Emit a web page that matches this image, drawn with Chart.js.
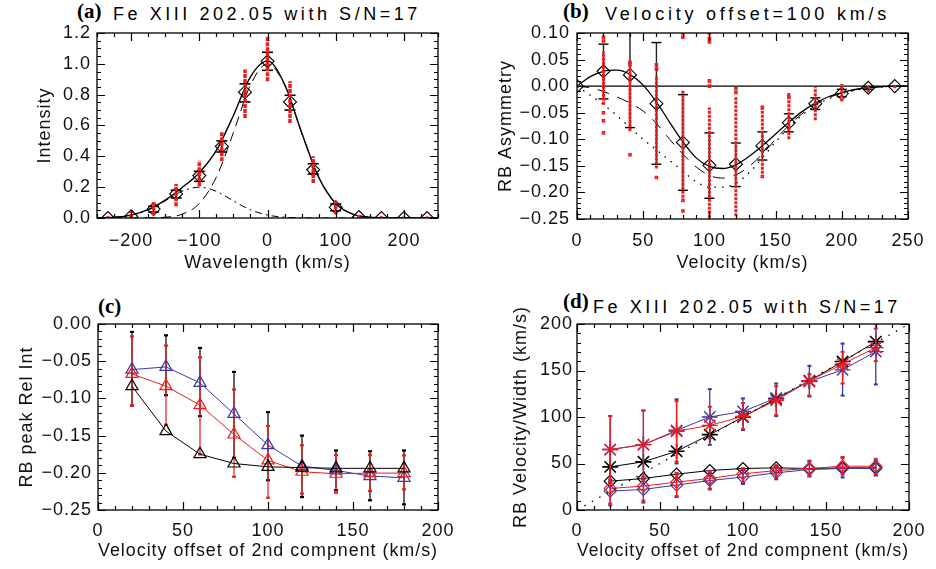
<!DOCTYPE html>
<html><head><meta charset="utf-8">
<script src="https://cdn.jsdelivr.net/npm/chart.js@4.4.1/dist/chart.umd.min.js"></script>
<style>
html,body{margin:0;padding:0;background:#fff;width:936px;height:569px;overflow:hidden;}
body{position:relative;}
.cv{position:absolute;}
.t{position:absolute;font-family:'Liberation Sans',Arial,sans-serif;font-size:18px;line-height:18px;color:#000;white-space:nowrap;}
.p{position:absolute;font-family:'Liberation Serif','Times New Roman',serif;font-weight:bold;font-size:21px;line-height:21px;color:#000;white-space:nowrap;}
</style></head><body>
<div class="p" style="left:77px;top:1px">(a)</div>
<div class="t fit" data-w="308" style="left:113px;top:5px">Fe XIII 202.05 with S/N=17</div>
<div class="p" style="left:563px;top:1px">(b)</div>
<div class="t fit" data-w="285" style="left:605px;top:5px">Velocity offset=100 km/s</div>
<div class="p" style="left:98px;top:296px">(c)</div>
<div class="p" style="left:563px;top:291px">(d)</div>
<div class="t fit" data-w="308" style="left:593px;top:298px">Fe XIII 202.05 with S/N=17</div>

<canvas id="ca" class="cv" width="468" height="284" style="left:0;top:0"></canvas>
<canvas id="cb" class="cv" width="468" height="284" style="left:468px;top:0"></canvas>
<canvas id="cc" class="cv" width="468" height="285" style="left:0;top:284px"></canvas>
<canvas id="cd" class="cv" width="468" height="285" style="left:468px;top:284px"></canvas>
<script>
// ---------------- Panel (a) data ----------------
const aTickX = [-200, -100, 0, 100, 200];
const aTickY = [0, 0.2, 0.4, 0.6, 0.8, 1.0, 1.2];
const aBinX  = [-234, -200, -167, -134, -100, -67, -33, 0, 33, 67, 100, 134, 167, 200, 234];
const aObs   = [0, 0.011, 0.058, 0.156, 0.275, 0.465, 0.816, 1.016, 0.753, 0.313, 0.069, 0.006, 0, 0, 0];
const aRedLo = [0, 0, 0.018, 0.076, 0.206, 0.368, 0.649, 0.887, 0.617, 0.227, 0.026, 0, 0, 0, 0];
const aRedHi = [0.012, 0.04, 0.104, 0.22, 0.372, 0.558, 0.963, 1.18, 0.887, 0.40, 0.112, 0.02, 0.012, 0.01, 0.01];
const aErrX  = [-167, -134, -100, -67, -33, 0, 33, 67, 100];
const aErrLo = [0.039, 0.13, 0.238, 0.428, 0.753, 0.958, 0.70, 0.285, 0.047];
const aErrHi = [0.076, 0.18, 0.303, 0.50, 0.87, 1.075, 0.796, 0.352, 0.091];
const aCurveX = [-250, -225, -200, -175, -150, -125, -100, -75, -50, -25, 0, 25, 50, 75, 100, 125, 150, 175, 200, 225, 250];
const aTotal  = [0.001, 0.005, 0.019, 0.054, 0.116, 0.198, 0.294, 0.438, 0.665, 0.916, 1.019, 0.868, 0.555, 0.265, 0.094, 0.025, 0.005, 0.001, 0, 0, 0];
const aMain   = [0, 0, 0, 0.001, 0.005, 0.025, 0.094, 0.265, 0.554, 0.863, 1.0, 0.863, 0.554, 0.265, 0.094, 0.025, 0.005, 0.001, 0, 0, 0];
const aSecond = [0.001, 0.005, 0.019, 0.053, 0.111, 0.173, 0.2, 0.173, 0.111, 0.053, 0.019, 0.005, 0.001, 0, 0, 0, 0, 0, 0, 0, 0];

// ---------------- Panel (b) data ----------------
const bTickX = [0, 50, 100, 150, 200, 250];
const bTickY = [-0.25, -0.20, -0.15, -0.10, -0.05, 0.00, 0.05, 0.10];
const bVelX  = [0, 20, 40, 60, 80, 100, 120, 140, 160, 180, 200, 220, 240];
const bObs   = [0, 0.028, 0.021, -0.033, -0.106, -0.149, -0.147, -0.1125, -0.069, -0.033, -0.014, -0.003, 0];
const bErrX  = [20, 40, 60, 80, 100, 120, 140, 160, 180, 200, 220];
const bErrLo = [-0.024, -0.078, -0.147, -0.196, -0.211, -0.189, -0.139, -0.086, -0.044, -0.020, -0.006];
const bErrHi = [0.079, 0.13, 0.082, -0.016, -0.088, -0.107, -0.086, -0.052, -0.022, -0.006, -0.001];
const bRedX  = [20, 40, 60, 80, 100, 120, 140, 160, 180, 200, 220, 240];
const bRedLo = [-0.035, -0.085, -0.155, -0.21, -0.255, -0.245, -0.165, -0.10, -0.064, -0.029, -0.012, -0.004];
const bRedHi = [0.065, 0.035, 0.02, -0.008, -0.04, -0.02, -0.04, -0.013, -0.002, 0.004, 0.0, 0.002];
const bOutX  = [0, 20, 20, 20, 20, 20, 40, 40, 40, 60, 60, 60, 80, 80, 80, 80, 100, 100, 100, 100, 100, 120, 120, 140, 140, 160];
const bOutY  = [0, 0.092, 0.085, -0.05, -0.065, -0.088, 0.045, 0.04, -0.129, 0.04, 0.032, -0.172, 0.10, 0.092, -0.215, -0.235, 0.10, 0.09, 0.083, 0.01, 0.0, -0.005, -0.012, -0.04, -0.17, -0.02];
const bCurveX = [0, 10, 20, 30, 40, 50, 60, 70, 80, 90, 100, 110, 120, 130, 140, 150, 160, 170, 180, 190, 200, 210, 220, 230, 240, 250];
const bSolid  = [0, 0.018, 0.028, 0.030, 0.022, 0.002, -0.030, -0.068, -0.105, -0.135, -0.151, -0.155, -0.148, -0.132, -0.112, -0.090, -0.068, -0.048, -0.032, -0.020, -0.012, -0.006, -0.003, -0.001, 0, 0];
const bDashed = [0, -0.003, -0.01, -0.02, -0.032, -0.047, -0.07, -0.1, -0.128, -0.152, -0.168, -0.173, -0.167, -0.151, -0.128, -0.100, -0.074, -0.052, -0.035, -0.022, -0.013, -0.007, -0.003, -0.001, 0, 0];
const bDotted = [0, -0.017, -0.035, -0.055, -0.078, -0.1, -0.12, -0.14, -0.16, -0.18, -0.19, -0.19, -0.183, -0.163, -0.135, -0.105, -0.078, -0.055, -0.037, -0.024, -0.014, -0.008, -0.004, -0.002, 0, 0];
const bZeroX = [0, 250];
const bZeroY = [0, 0];

// ---------------- Panel (c) data ----------------
const cTickX = [0, 50, 100, 150, 200];
const cTickY = [-0.25, -0.20, -0.15, -0.10, -0.05, 0.00];
const cOffX  = [20, 40, 60, 80, 100, 120, 140, 160, 180];
const cBlack = [-0.0836, -0.144, -0.175, -0.1875, -0.192, -0.193, -0.194, -0.194, -0.194];
const cRed   = [-0.0671, -0.0836, -0.109, -0.1485, -0.1834, -0.1986, -0.2013, -0.2004, -0.2004];
const cBlue  = [-0.0613, -0.0577, -0.0792, -0.1208, -0.1628, -0.191, -0.1968, -0.2044, -0.2067];
const cBlackLo = [-0.1096, -0.0957, -0.1239, -0.18, -0.21, -0.2326, -0.2232, -0.237, -0.2425];
const cBlackHi = [-0.0107, -0.0152, -0.0322, -0.0644, -0.1185, -0.150, -0.170, -0.171, -0.170];
const cRedLo = [-0.11, -0.1355, -0.1753, -0.2053, -0.2335, -0.228, -0.2268, -0.2245, -0.2223];
const cRedHi = [-0.0166, -0.029, -0.0447, -0.088, -0.137, -0.163, -0.176, -0.176, -0.1767];

// ---------------- Panel (d) data ----------------
const dTickX = [0, 50, 100, 150, 200];
const dTickY = [0, 50, 100, 150, 200];
const dOffX  = [20, 40, 60, 80, 100, 120, 140, 160, 180];
const dStarBlack = [46.4, 51.8, 63.2, 81, 100, 119.6, 138.9, 159.6, 181];
const dStarRed   = [65, 70.3, 84.6, 91, 100.7, 117.8, 138.9, 156.8, 174.6];
const dStarBlue  = [65, 70.3, 85.7, 100, 106, 120.3, 138.2, 150.7, 170.3];
const dDiamBlack = [31, 33.9, 38.5, 42.5, 44.6, 45.3, 44.6, 45.3, 45.3];
const dDiamRed   = [23.2, 25.7, 30, 33.9, 38.9, 42.4, 44.6, 47.1, 47.1];
const dDiamBlue  = [20.3, 22.1, 26.8, 31.7, 35.4, 40, 43.5, 44.6, 44.6];
const dStarRedLo  = [29, 35, 52, 77, 87, 102, 123, 136, 160];
const dStarRedHi  = [101, 107, 117, 111, 115, 133, 146, 170, 195];
const dStarBlueLo = [29, 33, 50, 70, 86, 101, 122, 123, 135];
const dStarBlueHi = [101, 107, 119, 130, 120, 136, 155, 179, 208];
const dDiamRedLo  = [7, 10, 15, 22, 30, 35, 37, 38, 38];
const dDiamRedHi  = [33, 36, 40, 42, 45, 48, 52, 57, 55];
const dDiamBlueLo = [5, 8, 14, 23, 28, 33, 36, 35, 37];
const dDiamBlueHi = [31, 33, 38, 40, 43, 47, 53, 56, 53];
const dRefX = [0, 200];
const dRefY = [0, 200];

// ---------------- helpers ----------------
const RED = '#ee1c1c', BLUE = '#3838a6', BLK = '#000000';
const FONT = "'Liberation Sans', Arial, sans-serif";
Chart.defaults.font.family = FONT;
Chart.defaults.font.size = 18;
Chart.defaults.color = '#111';

const xy = (xs, ys) => xs.map((x, i) => ({x, y: ys[i]}));
const segs = (xs, lo, hi) => xs.flatMap((x, i) => [{x, y: lo[i]}, {x, y: hi[i]}, {x, y: null}]);
const ends = (xs, lo, hi) => xs.flatMap((x, i) => [{x, y: lo[i]}, {x, y: hi[i]}]);

function L(data, color, width, dash, mono) {
  return {data, showLine: true, borderColor: color, borderWidth: width, borderDash: dash || [],
    pointRadius: 0, pointHoverRadius: 0, fill: false, clip: 0, spanGaps: false, tension: 0,
    cubicInterpolationMode: mono ? 'monotone' : 'default', borderCapStyle: 'butt'};
}
function P(data, style, r, color, bw) {
  return {data, showLine: false, pointStyle: style, pointRadius: r, pointHoverRadius: r,
    borderColor: color, pointBorderColor: color, backgroundColor: 'rgba(0,0,0,0)',
    pointBackgroundColor: 'rgba(0,0,0,0)', borderWidth: bw, pointBorderWidth: bw, clip: 0};
}
function LP(data, color, style, r, pbw) {
  return {data, showLine: true, borderColor: color, borderWidth: 1, pointStyle: style,
    pointRadius: r, pointHoverRadius: r, pointBorderColor: color, pointBorderWidth: pbw || 1.2,
    backgroundColor: 'rgba(0,0,0,0)', pointBackgroundColor: 'rgba(0,0,0,0)', clip: 0, tension: 0};
}
function fmt(v, d) {
  const s = Math.abs(v) < 1e-9 ? (0).toFixed(d) : v.toFixed(d);
  return s.replace('-', '\u2212');
}
function xAxis(min, max, ticks, dec, title, H, pad, tpb) {
  return {type: 'linear', min, max,
    afterBuildTicks: s => { s.ticks = ticks.map(v => ({value: v})); },
    afterFit: s => { s.height = H; },
    grid: {display: false, drawTicks: false}, border: {display: false},
    ticks: {autoSkip: false, maxRotation: 0, minRotation: 0, padding: pad,
      font: {size: 18, lineHeight: 1}, color: '#111', callback: v => fmt(v, dec)},
    title: {display: true, text: title, color: '#111', font: {size: 18, lineHeight: 1},
      padding: {top: 0, bottom: tpb}}};
}
function yAxis(min, max, ticks, dec, title, W, pad, tpt) {
  return {type: 'linear', min, max,
    afterBuildTicks: s => { s.ticks = ticks.map(v => ({value: v})); },
    afterFit: s => { s.width = W; },
    grid: {display: false, drawTicks: false}, border: {display: false},
    ticks: {autoSkip: false, padding: pad, font: {size: 18, lineHeight: 1}, color: '#111',
      callback: v => fmt(v, dec)},
    title: {display: true, text: title, color: '#111', font: {size: 18, lineHeight: 1},
      padding: {top: tpt, bottom: 0}}};
}
function grid(min, max, step) {
  const n = Math.round((max - min) / step), out = [];
  for (let i = 0; i <= n; i++) out.push(min + i * step);
  return out;
}
const idlFrame = {
  id: 'idlFrame',
  beforeDraw(chart) { chart.ctx.letterSpacing = '1px'; },
  afterDatasetsDraw(chart, args, o) {
    const ctx = chart.ctx, a = chart.chartArea, xs = chart.scales.x, ys = chart.scales.y;
    ctx.save();
    ctx.strokeStyle = '#000';
    ctx.lineWidth = 1.2;
    ctx.beginPath();
    const isMaj = (arr, v) => arr.some(m => Math.abs(m - v) < 1e-6);
    grid(xs.min, xs.max, o.xMinor).forEach(v => {
      const len = isMaj(o.xMajor, v) ? 8 : 4;
      const p = Math.round(xs.getPixelForValue(v)) + 0.5;
      ctx.moveTo(p, a.bottom); ctx.lineTo(p, a.bottom - len);
      ctx.moveTo(p, a.top); ctx.lineTo(p, a.top + len);
    });
    grid(ys.min, ys.max, o.yMinor).forEach(v => {
      const len = isMaj(o.yMajor, v) ? 8 : 4;
      const p = Math.round(ys.getPixelForValue(v)) + 0.5;
      ctx.moveTo(a.left, p); ctx.lineTo(a.left + len, p);
      ctx.moveTo(a.right, p); ctx.lineTo(a.right - len, p);
    });
    ctx.stroke();
    ctx.lineWidth = 1.3;
    ctx.strokeRect(a.left, a.top, a.right - a.left, a.bottom - a.top);
    ctx.restore();
  }
};
function make(id, datasets, scales, padding, frame) {
  return new Chart(document.getElementById(id), {
    type: 'scatter',
    data: {datasets},
    options: {responsive: false, animation: false, events: [],
      layout: {padding},
      scales,
      plugins: {legend: {display: false}, tooltip: {enabled: false}, idlFrame: frame}},
    plugins: [idlFrame]
  });
}

// ---------------- Panel (a) ----------------
make('ca', [
  L(segs(aBinX, aRedLo, aRedHi), RED, 3.5, [4, 1]),
  L(xy(aCurveX, aSecond), BLK, 1, [7, 4, 2, 4], true),
  L(xy(aCurveX, aMain), BLK, 1, [10, 6], true),
  L(xy(aCurveX, aTotal), BLK, 1.4, [], true),
  L(segs(aErrX, aErrLo, aErrHi), BLK, 1.6),
  P(ends(aErrX, aErrLo, aErrHi), 'line', 5.5, BLK, 1.6),
  P(xy(aBinX, aObs), 'rectRot', 6.5, BLK, 1.1)
], {
  x: xAxis(-250, 250, aTickX, 0, 'Wavelength (km/s)', 56, 14, 2),
  y: yAxis(0, 1.2, aTickY, 1, 'Intensity', 97, 6, 36)
}, {top: 33, right: 30, bottom: 10, left: 0},
{xMajor: aTickX, yMajor: aTickY, xMinor: 25, yMinor: 0.05});

// ---------------- Panel (b) ----------------
make('cb', [
  L(segs(bRedX, bRedLo, bRedHi), RED, 3, [3, 1]),
  P(xy(bOutX, bOutY), 'rect', 1.5, RED, 1.5),
  L(xy(bZeroX, bZeroY), BLK, 1.2),
  L(xy(bCurveX, bDotted), BLK, 1.3, [1.5, 6], true),
  L(xy(bCurveX, bDashed), BLK, 1, [12, 9], true),
  L(xy(bCurveX, bSolid), BLK, 1.3, [], true),
  L(segs(bErrX, bErrLo, bErrHi), '#222', 1.4),
  P(ends(bErrX, bErrLo, bErrHi), 'line', 5, BLK, 1.4),
  P(xy(bVelX, bObs), 'rectRot', 6.5, BLK, 1.1)
], {
  x: xAxis(0, 250, bTickX, 0, 'Velocity (km/s)', 56, 13, 3),
  y: yAxis(-0.25, 0.10, bTickY, 2, 'RB Asymmetry', 109, 7, 29)
}, {top: 33, right: 18, bottom: 9, left: 0},
{xMajor: bTickX, yMajor: bTickY, xMinor: 10, yMinor: 0.01});

// ---------------- Panel (c) ----------------
make('cc', [
  LP(xy(cOffX, cBlack), BLK, 'triangle', 7),
  LP(xy(cOffX, cRed), RED, 'triangle', 7),
  LP(xy(cOffX, cBlue), BLUE, 'triangle', 7),
  L(segs(cOffX, cRedLo, cRedHi), RED, 1.2),
  P(ends(cOffX, cRedLo, cRedHi), 'line', 2, RED, 2.2),
  L(segs(cOffX, cBlackLo, cBlackHi), BLK, 1.2),
  P(ends(cOffX, cBlackLo, cBlackHi), 'line', 2, BLK, 2.2)
], {
  x: xAxis(0, 200, cTickX, 0, 'Velocity offset of 2nd compnent (km/s)', 50, 12, 0),
  y: yAxis(-0.25, 0.0, cTickY, 2, 'RB peak Rel Int', 98, 6, 18)
}, {top: 40, right: 30, bottom: 9, left: 0},
{xMajor: cTickX, yMajor: cTickY, xMinor: 10, yMinor: 0.01});

// ---------------- Panel (d) ----------------
make('cd', [
  L(xy(dRefX, dRefY), BLK, 1.3, [1.5, 7]),
  L(segs(dOffX, dStarRedLo, dStarRedHi), RED, 1.3),
  P(ends(dOffX, dStarRedLo, dStarRedHi), 'line', 2, RED, 2),
  L(segs(dOffX, dDiamRedLo, dDiamRedHi), RED, 1.3),
  P(ends(dOffX, dDiamRedLo, dDiamRedHi), 'line', 2, RED, 2),
  L(segs(dOffX, dStarBlueLo, dStarBlueHi), BLUE, 1.3),
  P(ends(dOffX, dStarBlueLo, dStarBlueHi), 'line', 2, BLUE, 2),
  L(segs(dOffX, dDiamBlueLo, dDiamBlueHi), BLUE, 1.3),
  P(ends(dOffX, dDiamBlueLo, dDiamBlueHi), 'line', 2, BLUE, 2),
  LP(xy(dOffX, dDiamRed), RED, 'rectRot', 6),
  LP(xy(dOffX, dStarRed), RED, 'star', 8, 1.4),
  LP(xy(dOffX, dDiamBlue), BLUE, 'rectRot', 6),
  LP(xy(dOffX, dStarBlue), BLUE, 'star', 8, 1.4),
  LP(xy(dOffX, dDiamBlack), BLK, 'rectRot', 6),
  LP(xy(dOffX, dStarBlack), BLK, 'star', 8, 1.6)
], {
  x: xAxis(0, 200, dTickX, 0, 'Velocity offset of 2nd compnent (km/s)', 50, 12, 0),
  y: yAxis(0, 200, dTickY, 0, 'RB Velocity/Width (km/s)', 109, 4, 44)
}, {top: 40, right: 18, bottom: 9, left: 0},
{xMajor: dTickX, yMajor: dTickY, xMinor: 10, yMinor: 10});

// stretch the panel titles to the reference widths
document.querySelectorAll('.fit').forEach(el => {
  const target = +el.dataset.w;
  const n = el.textContent.length;
  const w = el.getBoundingClientRect().width;
  el.style.letterSpacing = ((target - w) / n).toFixed(2) + 'px';
});
</script>
</body></html>
